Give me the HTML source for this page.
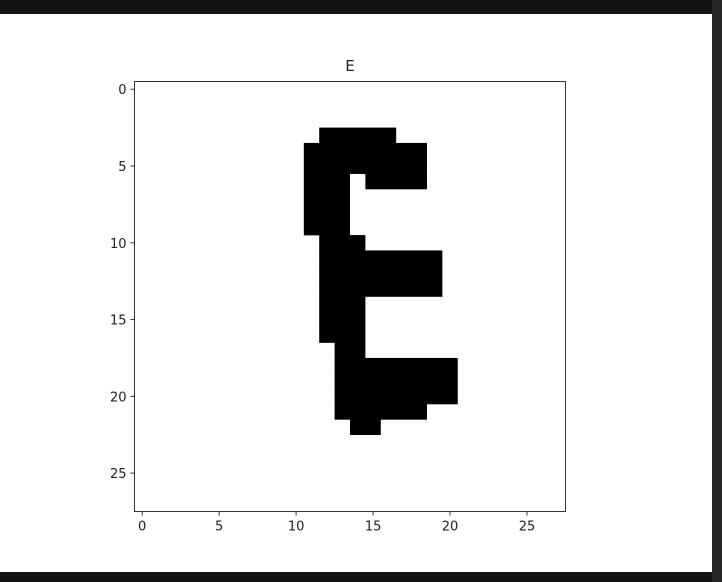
<!DOCTYPE html>
<html><head><meta charset="utf-8"><style>
html,body{margin:0;padding:0;background:#141414;width:722px;height:582px;overflow:hidden}
svg{display:block}
text{font-family:"DejaVu Sans","Liberation Sans",sans-serif;font-size:13px;fill:#222}
</style></head><body>
<svg id="chart" width="722" height="582">
<rect x="0" y="0" width="722" height="582" fill="#141414"/>
<rect x="712" y="0" width="10" height="582" fill="#262626"/>
<rect x="0" y="14" width="712" height="558" fill="#fff"/>
<text x="350" y="71" text-anchor="middle" style="font-size:15px">E</text>
<g id="cells"></g>
<rect x="134.5" y="81.5" width="431" height="430" fill="none" stroke="#333" stroke-width="1"/>
<g id="ticks"></g>
</svg>
<script>
// rows of black pixels: [row, colStart, colEnd] (inclusive)
const rowIndex = [3,4,5,6,6,7,8,9,10,11,12,13,14,15,16,17,18,19,20,21,22];
const colStart = [12,11,11,11,15,11,11,11,12,12,12,12,12,12,12,13,13,13,13,13,14];
const colEnd   = [16,18,18,13,18,13,13,13,14,19,19,19,14,14,14,14,20,20,20,18,15];
const xTicks = [0,5,10,15,20,25];
const yTicks = [0,5,10,15,20,25];
const N = 28;
const L=134.5,T=81.5,W=431,H=430;
const sx = v => L + (v+0.5)*W/N;
const sy = v => T + (v+0.5)*H/N;
const NS="http://www.w3.org/2000/svg";
const cells=document.getElementById('cells');
for(let i=0;i<rowIndex.length;i++){
  const r=document.createElementNS(NS,'rect');
  const x0=sx(colStart[i]-0.5), x1=sx(colEnd[i]+0.5);
  const y0=sy(rowIndex[i]-0.5), y1=sy(rowIndex[i]+0.5);
  r.setAttribute('x',x0);r.setAttribute('y',y0);
  r.setAttribute('width',x1-x0);r.setAttribute('height',y1-y0+0.3);
  r.setAttribute('fill','#000');
  
  
  cells.appendChild(r);
}
const tk=document.getElementById('ticks');
xTicks.forEach(v=>{
  const l=document.createElementNS(NS,'line');
  l.setAttribute('x1',sx(v));l.setAttribute('x2',sx(v));l.setAttribute('y1',T+H);l.setAttribute('y2',T+H+4);
  l.setAttribute('stroke','#333');
  
  
  tk.appendChild(l);
  const t=document.createElementNS(NS,'text');
  t.setAttribute('x',sx(v));t.setAttribute('y',T+H+19);t.setAttribute('text-anchor','middle');
  t.textContent=v;
  
  
  tk.appendChild(t);
});
yTicks.forEach(v=>{
  const l=document.createElementNS(NS,'line');
  l.setAttribute('x1',L-4);l.setAttribute('x2',L);l.setAttribute('y1',sy(v));l.setAttribute('y2',sy(v));
  l.setAttribute('stroke','#333');
  
  
  tk.appendChild(l);
  const t=document.createElementNS(NS,'text');
  t.setAttribute('x',L-8);t.setAttribute('y',sy(v)+5);t.setAttribute('text-anchor','end');
  t.textContent=v;
  
  
  tk.appendChild(t);
});
</script>
</body></html>
